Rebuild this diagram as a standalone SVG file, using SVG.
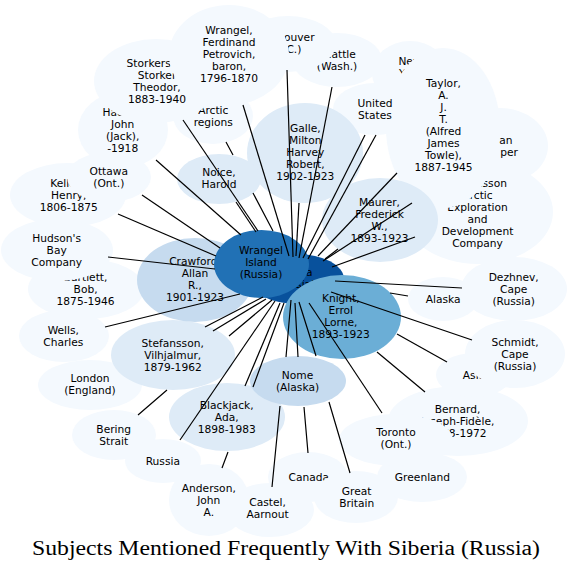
<svg xmlns="http://www.w3.org/2000/svg" width="571" height="570" viewBox="0 0 571 570">
<style>
.p{fill:#f4f9fe}.m{fill:#deebf7}.c{fill:#c6dbef}
text{font-family:"DejaVu Sans",sans-serif;font-size:10.67px;text-anchor:middle;fill:#000}
.t{font-family:"Liberation Serif",serif;font-size:20px}
.e{stroke:#000;stroke-width:1.2;fill:none}
</style>
<rect width="571" height="570" fill="#fff"/>
<g id="nodes">
<g id="n-seattle"><ellipse class="p" cx="337" cy="60" rx="45" ry="27"/><text y="57.8"><tspan x="337">Seattle</tspan><tspan x="337" dy="12">(Wash.)</tspan></text></g>
<g id="n-vancouver"><ellipse class="p" cx="288" cy="44" rx="48" ry="28"/><text y="40.8"><tspan x="286.5">Vancouver</tspan><tspan x="286.5" dy="12">(B.C.)</tspan></text></g>
<g id="n-newyork"><ellipse class="p" cx="410" cy="73" rx="38" ry="32"/><text y="64.8"><tspan x="410">New</tspan><tspan x="410" dy="12">York</tspan><tspan x="410" dy="12">(N.Y.)</tspan></text></g>
<g id="n-anper"><ellipse class="p" cx="500" cy="146" rx="48" ry="38"/><text y="143.8" style="text-anchor:end"><tspan x="512.5">an</tspan><tspan x="518" dy="12">per</tspan></text></g>
<g id="n-saedc"><ellipse class="p" cx="478" cy="212" rx="75" ry="52"/><text y="186.5"><tspan x="477.5">Stefansson</tspan><tspan x="477.5" dy="12">Arctic</tspan><tspan x="477.5" dy="12">Exploration</tspan><tspan x="477.5" dy="12">and</tspan><tspan x="477.5" dy="12">Development</tspan><tspan x="477.5" dy="12">Company</tspan></text></g>
<g id="n-taylor"><ellipse class="p" cx="443" cy="128" rx="57" ry="80"/><text y="86.8"><tspan x="443.5">Taylor,</tspan><tspan x="443.5" dy="12">A.</tspan><tspan x="443.5" dy="12">J.</tspan><tspan x="443.5" dy="12">T.</tspan><tspan x="443.5" dy="12">(Alfred</tspan><tspan x="443.5" dy="12">James</tspan><tspan x="443.5" dy="12">Towle),</tspan><tspan x="443.5" dy="12">1887-1945</tspan></text></g>
<g id="n-us"><ellipse class="p" cx="375" cy="109" rx="42" ry="26"/><text y="106.8"><tspan x="375">United</tspan><tspan x="375" dy="12">States</tspan></text></g>
<g id="n-hadley"><ellipse class="p" cx="123" cy="130" rx="45" ry="38"/><text y="115.8"><tspan x="122.7">Hadley,</tspan><tspan x="122.7" dy="12">John</tspan><tspan x="122.7" dy="12">(Jack),</tspan><tspan x="122.7" dy="12">-1918</tspan></text></g>
<g id="n-arctic"><ellipse class="p" cx="213" cy="116" rx="40" ry="28"/><text y="113.8"><tspan x="213.3">Arctic</tspan><tspan x="213.3" dy="12">regions</tspan></text></g>
<g id="n-storkerson"><ellipse class="p" cx="156" cy="81" rx="62" ry="42"/><text y="67.1"><tspan x="157">Storkerson,</tspan><tspan x="157" dy="12">Storker</tspan><tspan x="157" dy="12">Theodor,</tspan><tspan x="157" dy="12">1883-1940</tspan></text></g>
<g id="n-wrangelf"><ellipse class="p" cx="229" cy="55" rx="60" ry="50"/><text y="33.8"><tspan x="229">Wrangel,</tspan><tspan x="229" dy="12">Ferdinand</tspan><tspan x="229" dy="12">Petrovich,</tspan><tspan x="229" dy="12">baron,</tspan><tspan x="229" dy="12">1796-1870</tspan></text></g>
<g id="n-kellett"><ellipse class="p" cx="68" cy="195" rx="58" ry="32"/><text y="186.5"><tspan x="68.8">Kellett,</tspan><tspan x="68.8" dy="12">Henry,</tspan><tspan x="68.8" dy="12">1806-1875</tspan></text></g>
<g id="n-ottawa"><ellipse class="p" cx="109" cy="177" rx="42" ry="25"/><text y="174.5"><tspan x="108.8">Ottawa</tspan><tspan x="108.8" dy="12">(Ont.)</tspan></text></g>
<g id="n-bartlett"><ellipse class="p" cx="86" cy="289" rx="58" ry="30"/><text y="281"><tspan x="85.6">Bartlett,</tspan><tspan x="85.6" dy="12">Bob,</tspan><tspan x="85.6" dy="12">1875-1946</tspan></text></g>
<g id="n-hudson"><ellipse class="p" cx="57" cy="250" rx="56" ry="31"/><text y="242.1"><tspan x="56.7">Hudson's</tspan><tspan x="56.7" dy="12">Bay</tspan><tspan x="56.7" dy="12">Company</tspan></text></g>
<g id="n-wells"><ellipse class="p" cx="64" cy="336" rx="45" ry="26"/><text y="334"><tspan x="63.3">Wells,</tspan><tspan x="63.3" dy="12">Charles</tspan></text></g>
<g id="n-london"><ellipse class="p" cx="90" cy="385" rx="52" ry="25"/><text y="382.3"><tspan x="90">London</tspan><tspan x="90" dy="12">(England)</tspan></text></g>
<g id="n-bering"><ellipse class="p" cx="114" cy="435" rx="42" ry="25"/><text y="432.8"><tspan x="113.7">Bering</tspan><tspan x="113.7" dy="12">Strait</tspan></text></g>
<g id="n-russia"><ellipse class="p" cx="163" cy="461" rx="38" ry="22"/><text x="162.8" y="465.1">Russia</text></g>
<g id="n-castel"><ellipse class="p" cx="270" cy="510" rx="44" ry="27"/><text y="506"><tspan x="267.5">Castel,</tspan><tspan x="267.5" dy="12">Aarnout</tspan></text></g>
<g id="n-anderson"><ellipse class="p" cx="209" cy="500" rx="40" ry="36"/><text y="492.1"><tspan x="208.8">Anderson,</tspan><tspan x="208.8" dy="12">John</tspan><tspan x="208.8" dy="12">A.</tspan></text></g>
<g id="n-canada"><ellipse class="p" cx="308" cy="477" rx="40" ry="25"/><text x="308.8" y="481.1">Canada</text></g>
<g id="n-gb"><ellipse class="p" cx="356" cy="497" rx="42" ry="26"/><text y="494.6"><tspan x="356.7">Great</tspan><tspan x="356.7" dy="12">Britain</tspan></text></g>
<g id="n-greenland"><ellipse class="p" cx="422" cy="477" rx="45" ry="25"/><text x="422.5" y="481.1">Greenland</text></g>
<g id="n-bernard"><ellipse class="p" cx="458" cy="421" rx="70" ry="35"/><text y="412.8"><tspan x="457.5">Bernard,</tspan><tspan x="457.5" dy="12">Joseph-Fidèle,</tspan><tspan x="457.5" dy="12">1878-1972</tspan></text></g>
<g id="n-toronto"><ellipse class="p" cx="396" cy="440" rx="57" ry="26"/><text y="435.5"><tspan x="396">Toronto</tspan><tspan x="396" dy="12">(Ont.)</tspan></text></g>
<g id="n-asia"><ellipse class="p" cx="474" cy="375" rx="38" ry="22"/><text x="474" y="378.8">Asia</text></g>
<g id="n-schmidt"><ellipse class="p" cx="515" cy="354" rx="50" ry="34"/><text y="345.5"><tspan x="515">Schmidt,</tspan><tspan x="515" dy="12">Cape</tspan><tspan x="515" dy="12">(Russia)</tspan></text></g>
<g id="n-alaska"><ellipse class="p" cx="443" cy="299" rx="35" ry="22"/><text x="443.2" y="303.1">Alaska</text></g>
<g id="n-dezhnev"><ellipse class="p" cx="514" cy="289" rx="53" ry="32"/><text y="280.8"><tspan x="513.7">Dezhnev,</tspan><tspan x="513.7" dy="12">Cape</tspan><tspan x="513.7" dy="12">(Russia)</tspan></text></g>
<g id="n-galle"><ellipse class="m" cx="305" cy="153" rx="58" ry="50"/><text y="132"><tspan x="305.3">Galle,</tspan><tspan x="305.3" dy="12">Milton</tspan><tspan x="305.3" dy="12">Harvey</tspan><tspan x="305.3" dy="12">Robert,</tspan><tspan x="305.3" dy="12">1902-1923</tspan></text></g>
<g id="n-maurer"><ellipse class="m" cx="380" cy="220" rx="58" ry="42"/><text y="205.8"><tspan x="379.5">Maurer,</tspan><tspan x="379.5" dy="12">Frederick</tspan><tspan x="379.5" dy="12">W.,</tspan><tspan x="379.5" dy="12">1893-1923</tspan></text></g>
<g id="n-noice"><ellipse class="m" cx="219" cy="179" rx="42" ry="25"/><text y="176.1"><tspan x="219">Noice,</tspan><tspan x="219" dy="12">Harold</tspan></text></g>
<g id="n-stefansson"><ellipse class="m" cx="173" cy="355" rx="62" ry="35"/><text y="346.8"><tspan x="172.7">Stefansson,</tspan><tspan x="172.7" dy="12">Vilhjalmur,</tspan><tspan x="172.7" dy="12">1879-1962</tspan></text></g>
<g id="n-blackjack"><ellipse class="m" cx="227" cy="417" rx="58" ry="34"/><text y="408.8"><tspan x="226.7">Blackjack,</tspan><tspan x="226.7" dy="12">Ada,</tspan><tspan x="226.7" dy="12">1898-1983</tspan></text></g>
<g id="n-crawford"><ellipse class="c" cx="195" cy="280" rx="58" ry="42"/><text y="265.3"><tspan x="195">Crawford,</tspan><tspan x="195" dy="12">Allan</tspan><tspan x="195" dy="12">R.,</tspan><tspan x="195" dy="12">1901-1923</tspan></text></g>
<g id="n-nome"><ellipse class="c" cx="298" cy="381" rx="48" ry="25"/><text y="378.6"><tspan x="297.5">Nome</tspan><tspan x="297.5" dy="12">(Alaska)</tspan></text></g>
<g id="n-siberia"><ellipse cx="297" cy="279" rx="47" ry="25" fill="#08519c"/><text y="275.8"><tspan x="294">Siberia</tspan><tspan x="294" dy="12">(Russia)</tspan></text></g>
<g id="n-wrangelisland"><ellipse cx="261.5" cy="264" rx="47.5" ry="34" fill="#2171b5"/><text y="254.1"><tspan x="261">Wrangel</tspan><tspan x="261" dy="12">Island</tspan><tspan x="261" dy="12">(Russia)</tspan></text></g>
<g id="n-knight"><ellipse cx="342" cy="317" rx="59" ry="42" fill="#6baed6"/><text y="302"><tspan x="340.8">Knight,</tspan><tspan x="340.8" dy="12">Errol</tspan><tspan x="340.8" dy="12">Lorne,</tspan><tspan x="340.8" dy="12">1893-1923</tspan></text></g>
</g>
<g id="connectors" class="e">
<path d="M183,120L258,231"/>
<path d="M156,160L241,235"/>
<path d="M142,195L220,248"/>
<path d="M118,214L216,256"/>
<path d="M108,257L215,269"/>
<path d="M105,327L240,294"/>
<path d="M236,202L256,232"/>
<path d="M226,142L233,155M253,193L273,231"/>
<path d="M243,105L289,256"/>
<path d="M287,70L293,257"/>
<path d="M299,203L296,256"/>
<path d="M332,87L299,258"/>
<path d="M365,135L303,258"/>
<path d="M376,135L308,259"/>
<path d="M397,173L318,256"/>
<path d="M412,203L323,261"/>
<path d="M415,237L332,267"/>
<path d="M338,249L325,259"/>
<path d="M335,281L462,288"/>
<path d="M390,293L408,296"/>
<path d="M331,292L472,340"/>
<path d="M397,334L447,362"/>
<path d="M377,352L425,392"/>
<path d="M309,303L382,413"/>
<path d="M316,356L299,302M329,402L350,473"/>
<path d="M298,357L295,303M304,407L308,453"/>
<path d="M286,357L291,300M280,406L272,487"/>
<path d="M253,387L284,303M228,452L222,468"/>
<path d="M245,386L280,303"/>
<path d="M180,440L275,301"/>
<path d="M138,415L167,390M229,336L272,300"/>
<path d="M213,331L266,299"/>
<path d="M205,327L263,297"/>
</g>
<text class="t" x="286" y="555" textLength="508" lengthAdjust="spacingAndGlyphs">Subjects Mentioned Frequently With Siberia (Russia)</text>
</svg>
